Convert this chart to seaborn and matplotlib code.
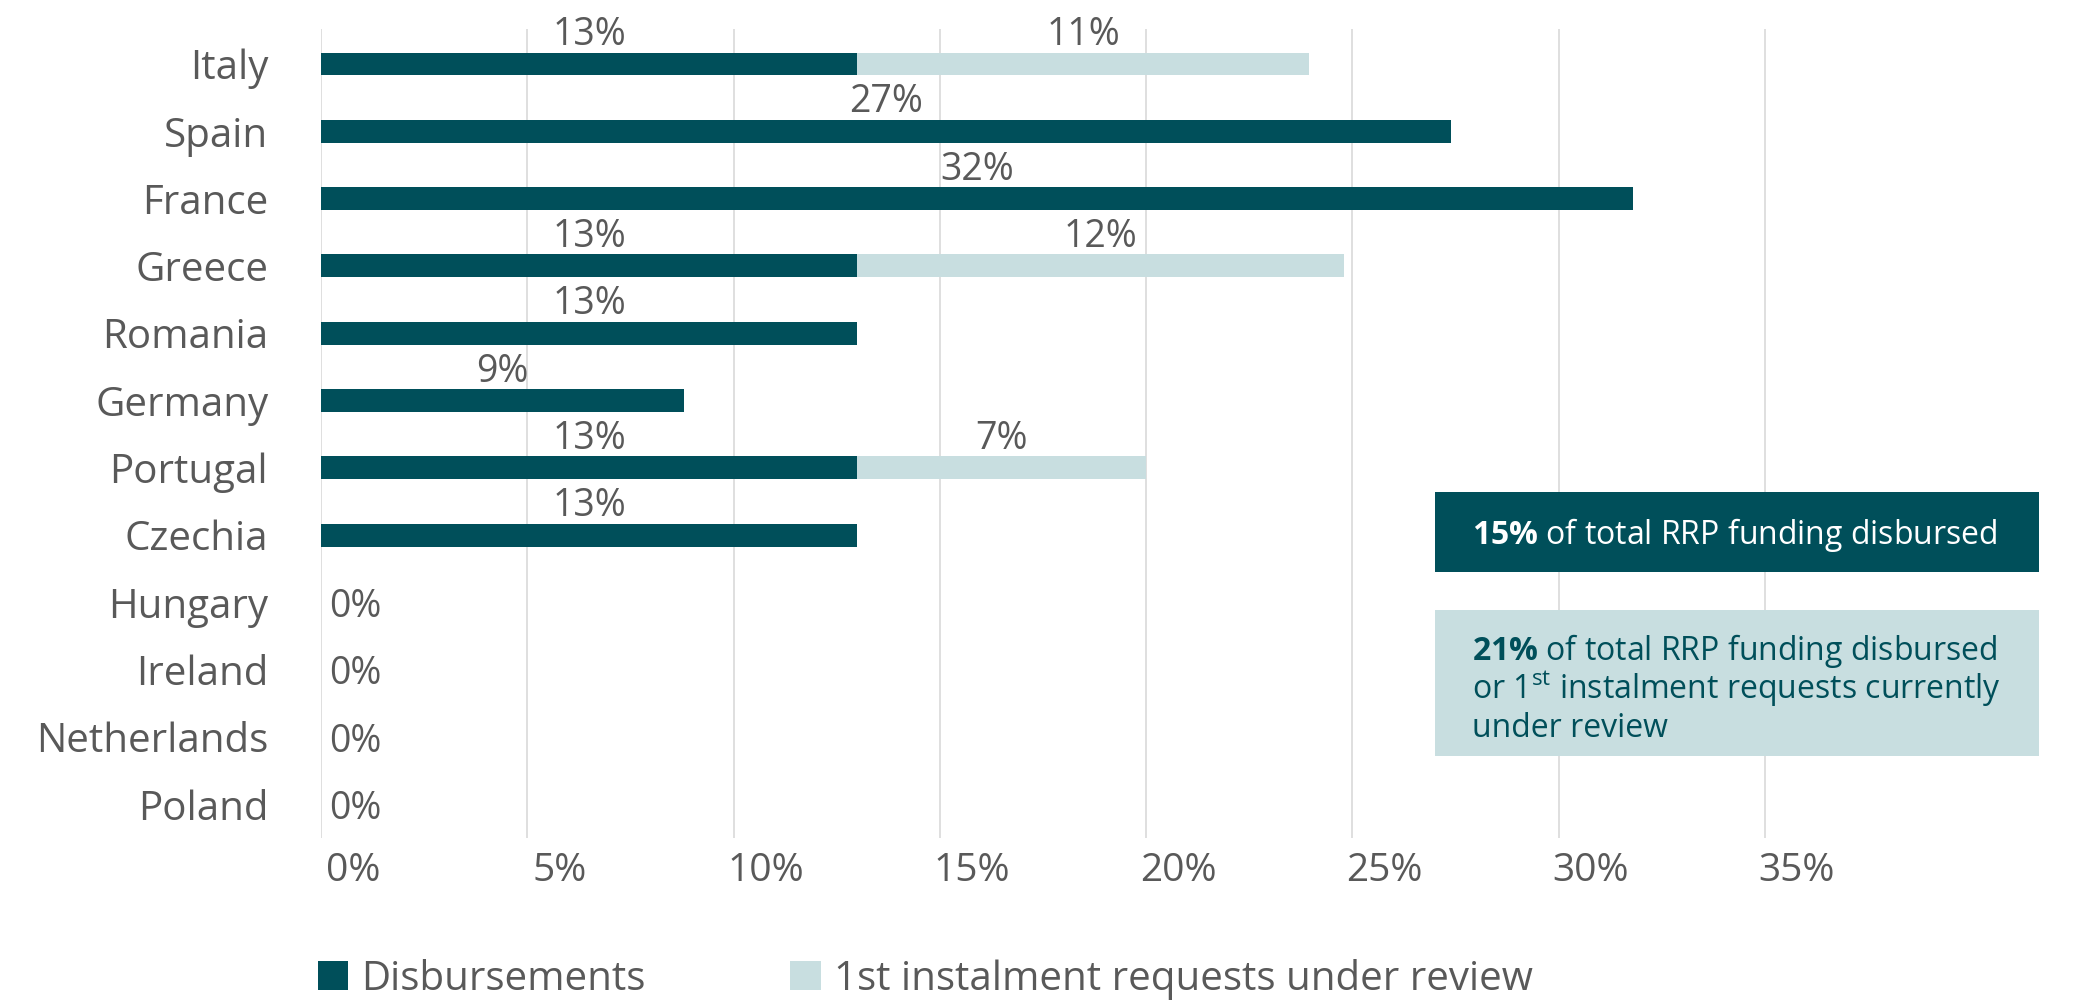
import matplotlib
matplotlib.use("Agg")
import matplotlib.pyplot as plt
import matplotlib.transforms as mtransforms
from matplotlib.patches import Rectangle, Patch
import pandas as pd
import seaborn as sns

# data (percent of total RRP funding)
countries = ["Italy", "Spain", "France", "Greece", "Romania", "Germany",
             "Portugal", "Czechia", "Hungary", "Ireland", "Netherlands", "Poland"]
disbursed = [13.0, 27.4, 31.8, 13.0, 13.0, 8.8, 13.0, 13.0, 0, 0, 0, 0]
under_review = [10.95, 0, 0, 11.8, 0, 0, 7.0, 0, 0, 0, 0, 0]
xticks = [0, 5, 10, 15, 20, 25, 30, 35]
legend_labels = ["Disbursements", "1st instalment requests under review"]
box1_lines = [r"$\mathbf{15\%}$ of total RRP funding disbursed"]
box2_lines = [r"$\mathbf{21\%}$ of total RRP funding disbursed",
              r"or 1$^{\mathrm{st}}$ instalment requests currently",
              "under review"]

DARK = "#004F5A"
LIGHT = "#C8DEE0"
GREY = "#595959"
GRID = "#D9D9D9"

sns.set_style("white")
plt.rcParams["font.family"] = ["Open Sans", "DejaVu Sans"]
plt.rcParams["mathtext.fontset"] = "custom"
plt.rcParams["mathtext.rm"] = "Open Sans"
plt.rcParams["mathtext.bf"] = "Open Sans:bold"


def px(x, y):
    """pixel position in the 2080x1000 picture -> figure fraction"""
    return x / 2080, 1 - y / 1000


df = pd.DataFrame({"country": countries, "disbursed": disbursed, "review": under_review})
df["total"] = df["disbursed"] + df["review"]

fig = plt.figure(figsize=(20.8, 10), dpi=100)
ax = fig.add_axes([321 / 2080, 0.162, 0.7438, 0.809])

# light bar = total, dark bar drawn on top = disbursed
sns.barplot(data=df, y="country", x="total", color=LIGHT, saturation=1,
            width=0.34, linewidth=0, ax=ax, orient="y")
sns.barplot(data=df, y="country", x="disbursed", color=DARK, saturation=1,
            width=0.34, linewidth=0, ax=ax, orient="y")

ax.set_xlim(0, 37.5)
ax.set_ylim(11.5, -0.52)
ax.set_xlabel("")
ax.set_ylabel("")
for s in ax.spines.values():
    s.set_visible(False)
ax.set_axisbelow(True)
ax.xaxis.grid(True, color=GRID, linewidth=1.2)
ax.yaxis.grid(False)

ax.set_xticks(xticks)
ax.set_xticklabels([f"{t}%" for t in xticks])
ax.tick_params(axis="x", length=0, pad=10, labelsize=28, labelcolor=GREY)
ax.tick_params(axis="y", length=0, pad=38, labelsize=29, labelcolor=GREY)
shift = mtransforms.ScaledTranslation(0.32, 0, fig.dpi_scale_trans)
for lab in ax.get_xticklabels():
    lab.set_transform(lab.get_transform() + shift)

# value labels
for i, row in df.iterrows():
    if row["disbursed"] == 0:
        ax.text(0.2, i, "0%", ha="left", va="center_baseline",
                fontsize=27, color=GREY)
        continue
    ax.text(row["disbursed"] / 2, i - 0.28, f"{round(row['disbursed'])}%",
            ha="center", va="baseline", fontsize=27, color=GREY)
    if row["review"] > 0:
        ax.text(row["disbursed"] + row["review"] / 2, i - 0.28,
                f"{round(row['review'])}%", ha="center", va="baseline",
                fontsize=27, color=GREY)

# legend
handles = [Patch(facecolor=DARK, linewidth=0), Patch(facecolor=LIGHT, linewidth=0)]
fig.legend(handles, legend_labels, loc="center left", bbox_to_anchor=(318 / 2080, 0.021),
           ncol=2, frameon=False, fontsize=29, labelcolor=GREY,
           handlelength=0.75, handleheight=0.75, handletextpad=0.32,
           columnspacing=3.6, borderpad=0, borderaxespad=0)

# summary boxes
x0, y0 = px(1435, 572)
fig.add_artist(Rectangle((x0, y0), 604 / 2080, 80 / 1000, transform=fig.transFigure,
                         facecolor=DARK, linewidth=0))
for k, line in enumerate(box1_lines):
    fig.text(*px(1472, 544 + 38 * k), line, ha="left", va="baseline",
             fontsize=23, color="white")

x0, y0 = px(1435, 756)
fig.add_artist(Rectangle((x0, y0), 604 / 2080, 146 / 1000, transform=fig.transFigure,
                         facecolor=LIGHT, linewidth=0))
for k, line in enumerate(box2_lines):
    fig.text(*px(1472, 660 + 38.5 * k), line, ha="left", va="baseline",
             fontsize=23, color=DARK)

fig.savefig("out.png", dpi=100)
